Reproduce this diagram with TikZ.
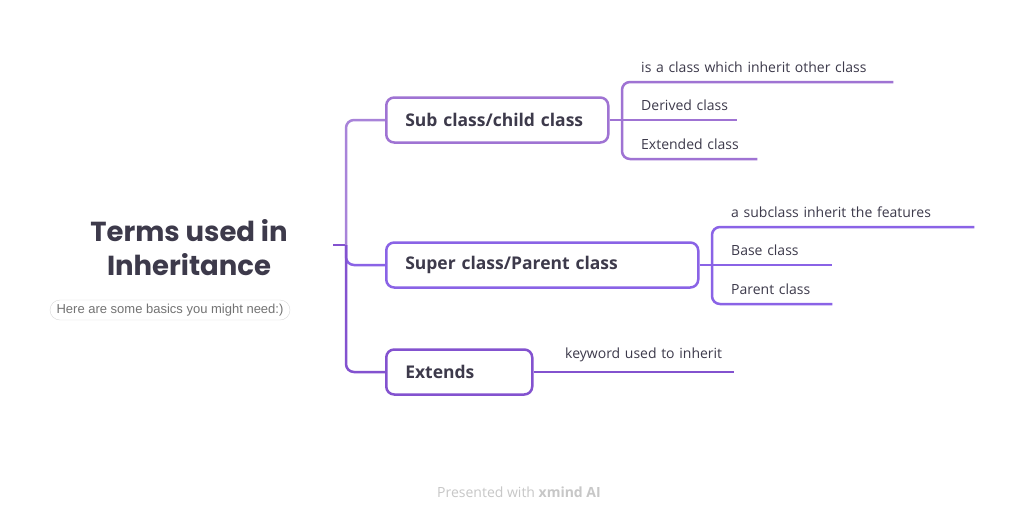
\documentclass[tikz,border=0pt]{standalone}
\usepackage{fontspec}
\setmainfont{Open Sans}
\newfontfamily\titlefont{Poppins}
\newfontfamily\notefont{Liberation Sans}
\definecolor{ink}{HTML}{3D3A4B}
\definecolor{subc}{HTML}{9F73D3}
\definecolor{supc}{HTML}{8A63E6}
\definecolor{extc}{HTML}{8352CF}
\definecolor{trunkup}{HTML}{A883D9}
\definecolor{pill}{HTML}{D9D9D9}
\begin{document}
\begin{tikzpicture}[x=1pt,y=-1pt]
\tikzstyle{every node}=[text=ink]
\tikzstyle{topic}=[draw,line width=2.5pt,rounded corners=8pt,minimum height=45pt,inner xsep=19pt,anchor=west,align=left,font=\fontsize{17.5}{20}\selectfont\bfseries]
\tikzstyle{leaf}=[anchor=south west,inner xsep=0pt,inner ysep=9.5pt,align=left,font=\fontsize{14}{16}\selectfont]
\tikzstyle{link}=[line width=2.5pt,rounded corners=8pt]
\useasboundingbox[fill=white] (0,0) rectangle (1025,517);
% central topic
\node[align=center,font=\titlefont\fontsize{27.5}{34}\selectfont\bfseries](root) at (189,248) {Terms used in\\Inheritance};
\node[draw=pill,rounded corners=10pt,minimum width=240pt,minimum height=20pt,inner sep=0pt,text=black!55,font=\notefont\fontsize{13}{15}\selectfont](note) at (170,310) {Here are some basics you might need:)};
% main topics
\node[topic,draw=subc,text width=184pt](sub) at (385,120) {Sub class/child class};
\node[topic,draw=supc,text width=274pt](sup) at (385,265) {Super class/Parent class};
\node[topic,draw=extc,text width=108pt](ext) at (385,372) {Extends};
% trunk
\coordinate (stub) at (333,245);
\coordinate (hub) at (346,245);
\draw[link,extc] (stub) -- (hub);
\draw[link,trunkup] (hub) |- (sub.west);
\draw[link,supc] (hub) |- (sup.west);
\draw[link,extc] (hub) |- (ext.west);
% sub class leaves
\node[leaf,text width=252pt](s1) at (641,82) {is a class which inherit other class};
\node[leaf,text width=99pt](s2) at (638,120) {\hspace{3pt}Derived class};
\node[leaf,text width=119pt](s3) at (638,159) {\hspace{3pt}Extended class};
\coordinate (sb) at (622,120);
\draw[link,subc] (sub.east) -- (s2.south east);
\draw[link,subc] (s1.south east) -| (sb) |- (s3.south east);
% super class leaves
\node[leaf,text width=243pt](p1) at (731,227) {a subclass inherit the features};
\node[leaf,text width=104pt](p2) at (728,265) {\hspace{3pt}Base class};
\node[leaf,text width=104pt](p3) at (728,304) {\hspace{3pt}Parent class};
\coordinate (pb) at (712,265);
\draw[link,supc] (sup.east) -- (p2.south east);
\draw[link,supc] (p1.south east) -| (pb) |- (p3.south east);
% extends leaf
\node[leaf,text width=169pt](e1) at (565,372) {keyword used to inherit};
\draw[link,extc] (ext.east) -- (e1.south east);
% footer
\node[text=black!22,font=\fontsize{14}{16}\selectfont](foot) at (519,492) {Presented with \textbf{xmind AI}};
\end{tikzpicture}
\end{document}
